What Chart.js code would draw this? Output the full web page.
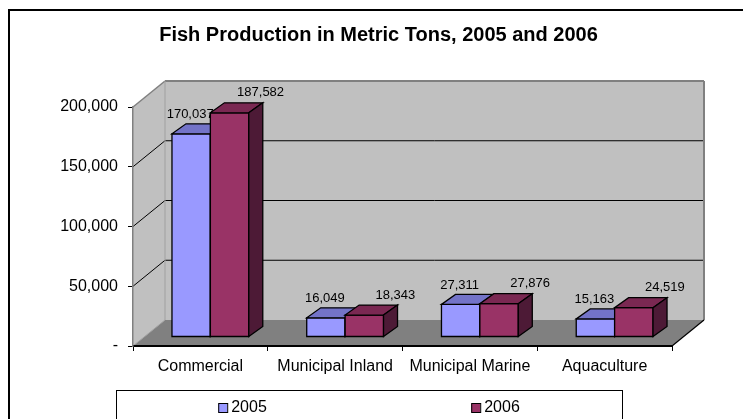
<!DOCTYPE html>
<html>
<head>
<meta charset="utf-8">
<script src="https://cdn.jsdelivr.net/npm/chart.js@4.4.1/dist/chart.umd.min.js"></script>
<style>
  html, body { margin: 0; padding: 0; background: #fff; }
  #wrap { width: 743px; height: 419px; }
</style>
</head>
<body>
<div id="wrap"><canvas id="c" width="743" height="419"></canvas></div>
<script>
// ---- data ----
const categories = ['Commercial', 'Municipal Inland', 'Municipal Marine', 'Aquaculture'];
const seriesNames = ['2005', '2006'];
const values2005 = [170037, 16049, 27311, 15163];
const values2006 = [187582, 18343, 27876, 24519];
const yTicks = [0, 50000, 100000, 150000, 200000];
const chartTitle = 'Fish Production in Metric Tons, 2005 and 2006';

// ---- styles ----
const FONT = '"Liberation Sans", Arial, sans-serif';
const faces = [
  { front: '#9999FF', top: '#7373C8', side: '#5C5C99' },
  { front: '#993366', top: '#7A2852', side: '#4D1A36' }
];
const DEPTH = { dx: 32, dy: -26 };     // plot box depth
const BAR_OFF = { dx: 10, dy: -9 };    // bar row position in depth
const BAR_DEPTH = { dx: 14, dy: -10 }; // bar thickness
const LABEL_OFF = [{ dx: -1, dy: -19 }, { dx: 31, dy: -20 }];

function fmt(v) { return v === 0 ? '-' : v.toLocaleString('en-US'); }

function poly(ctx, pts, fill, stroke, lw) {
  ctx.beginPath();
  ctx.moveTo(pts[0][0], pts[0][1]);
  for (let i = 1; i < pts.length; i++) ctx.lineTo(pts[i][0], pts[i][1]);
  ctx.closePath();
  if (fill) { ctx.fillStyle = fill; ctx.fill(); }
  if (stroke) { ctx.strokeStyle = stroke; ctx.lineWidth = lw || 1; ctx.stroke(); }
}
function line(ctx, x1, y1, x2, y2, color, lw) {
  ctx.beginPath(); ctx.moveTo(x1, y1); ctx.lineTo(x2, y2);
  ctx.strokeStyle = color; ctx.lineWidth = lw || 1; ctx.stroke();
}

const scene3d = {
  id: 'scene3d',
  beforeDraw(chart) {
    const { ctx, chartArea: a, scales: { y } } = chart;
    const dx = DEPTH.dx, dy = DEPTH.dy;
    const yTop = y.getPixelForValue(y.max), yBot = y.getPixelForValue(0);
    ctx.save();
    ctx.fillStyle = '#fff'; ctx.fillRect(0, 0, chart.width, chart.height);
    // outer frame
    ctx.lineWidth = 2; ctx.strokeStyle = '#000';
    ctx.strokeRect(9, 10, chart.width + 40, chart.height + 40);
    // back wall
    poly(ctx, [[a.left + dx, yTop + dy], [a.right + dx, yTop + dy], [a.right + dx, yBot + dy], [a.left + dx, yBot + dy]], '#C0C0C0');
    // left wall
    poly(ctx, [[a.left, yTop], [a.left + dx, yTop + dy], [a.left + dx, yBot + dy], [a.left, yBot]], '#C0C0C0');
    // grid lines
    yTicks.forEach(v => {
      if (v === 0 || v === y.max) return;
      const py = y.getPixelForValue(v);
      line(ctx, a.left + dx, py + dy, a.right + dx, py + dy, '#000', 1);
      line(ctx, a.left, py, a.left + dx, py + dy, '#000', 1);
    });
    // wall edges
    line(ctx, a.left, yTop, a.left + dx, yTop + dy, '#808080', 1.5);
    line(ctx, a.left + dx, yTop + dy, a.right + dx, yTop + dy, '#808080', 2);
    line(ctx, a.right + dx, yTop + dy, a.right + dx, yBot + dy, '#808080', 2);
    line(ctx, a.left + dx, yTop + dy, a.left + dx, yBot + dy, '#A0A0A0', 1);
    // floor
    poly(ctx, [[a.left, yBot], [a.right, yBot], [a.right + dx, yBot + dy], [a.left + dx, yBot + dy]], '#808080');
    line(ctx, a.left, yBot, a.left + dx, yBot + dy, '#A0A0A0', 1);
    line(ctx, a.right, yBot, a.right + dx, yBot + dy, '#000', 1.2);
    ctx.restore();
  },
  beforeDatasetsDraw(chart) {
    const { ctx } = chart;
    const metas = chart.data.datasets.map((d, i) => chart.getDatasetMeta(i));
    ctx.save();
    ctx.lineJoin = 'miter';
    const n = chart.data.labels.length;
    for (let i = 0; i < n; i++) {
      metas.forEach((meta, di) => {
        const bar = meta.data[i];
        const p = bar.getProps(['x', 'y', 'base', 'width'], true);
        const c = faces[di];
        const x0 = p.x - p.width / 2 + BAR_OFF.dx, x1 = p.x + p.width / 2 + BAR_OFF.dx;
        const yt = p.y + BAR_OFF.dy, yb = p.base + BAR_OFF.dy;
        const bx = BAR_DEPTH.dx, by = BAR_DEPTH.dy;
        poly(ctx, [[x0, yt], [x1, yt], [x1, yb], [x0, yb]], c.front, '#000', 1.3);
        poly(ctx, [[x0, yt], [x1, yt], [x1 + bx, yt + by], [x0 + bx, yt + by]], c.top, '#000', 1.3);
        poly(ctx, [[x1, yt], [x1 + bx, yt + by], [x1 + bx, yb + by], [x1, yb]], c.side, '#000', 1.3);
      });
    }
    // data labels
    ctx.font = '13px ' + FONT;
    ctx.fillStyle = '#000';
    ctx.textAlign = 'center';
    ctx.textBaseline = 'middle';
    metas.forEach((meta, di) => {
      const vals = chart.data.datasets[di].data;
      meta.data.forEach((bar, i) => {
        const p = bar.getProps(['x', 'y'], true);
        ctx.fillText(fmt(vals[i]), p.x + BAR_OFF.dx + LABEL_OFF[di].dx, p.y + BAR_OFF.dy + LABEL_OFF[di].dy);
      });
    });
    ctx.restore();
    return false;
  },
  afterDraw(chart) {
    const { ctx } = chart;
    const bx = 116, by = 390, bw = 506;
    ctx.save();
    ctx.lineWidth = 1; ctx.strokeStyle = '#000';
    ctx.strokeRect(bx + 0.5, by + 0.5, bw, 60);
    ctx.font = '16px ' + FONT;
    ctx.textBaseline = 'alphabetic';
    ctx.textAlign = 'left';
    const colW = bw / seriesNames.length;
    seriesNames.forEach((name, i) => {
      const tw = ctx.measureText(name).width;
      const iw = 9 + 4 + tw;
      const sx = bx + colW * i + (colW - iw) / 2;
      ctx.fillStyle = chart.data.datasets[i].backgroundColor;
      ctx.fillRect(sx, 403.5, 9, 9);
      ctx.strokeStyle = '#000'; ctx.lineWidth = 1;
      ctx.strokeRect(sx + 0.5, 403.5, 9, 9);
      ctx.fillStyle = '#000';
      ctx.fillText(name, sx + 13, 412);
    });
    ctx.restore();
  }
};

new Chart(document.getElementById('c'), {
  type: 'bar',
  data: {
    labels: categories,
    datasets: [
      { label: seriesNames[0], data: values2005, backgroundColor: faces[0].front, yAxisID: 'y' },
      { label: seriesNames[1], data: values2006, backgroundColor: faces[1].front, yAxisID: 'y' }
    ]
  },
  options: {
    responsive: false,
    animation: false,
    events: [],
    layout: { padding: { left: 14, right: 0, top: 0, bottom: 33 } },
    datasets: { bar: { categoryPercentage: 0.57, barPercentage: 1 } },
    plugins: {
      legend: { display: false },
      tooltip: { enabled: false },
      title: {
        display: true,
        text: chartTitle,
        color: '#000',
        font: { family: FONT, size: 20, weight: 'bold' },
        padding: { top: 23, bottom: 60 }
      }
    },
    scales: {
      x: {
        type: 'category',
        offset: true,
        grid: { display: true, offset: true, drawOnChartArea: false, drawTicks: true, tickLength: 5, color: '#000', lineWidth: 1 },
        border: { display: true, color: '#000', width: 2 },
        ticks: { color: '#000', font: { family: FONT, size: 16 }, padding: 6, maxRotation: 0, autoSkip: false },
        afterFit(s) { s.height = 40; }
      },
      y: {
        type: 'linear',
        min: 0,
        max: 200000,
        afterBuildTicks(s) { s.ticks = yTicks.map(v => ({ value: v })); },
        grid: { display: true, drawOnChartArea: false, drawTicks: true, tickLength: 5, color: '#000', lineWidth: 1 },
        border: { display: true, color: '#808080', width: 1.5 },
        ticks: { color: '#000', font: { family: FONT, size: 16 }, padding: 10, callback: v => fmt(v) },
        afterFit(s) { s.width = 119; }
      },
      y2: {
        type: 'linear',
        position: 'right',
        display: true,
        grid: { display: false },
        border: { display: false },
        ticks: { display: false },
        afterFit(s) { s.width = 71; }
      }
    }
  },
  plugins: [scene3d]
});
</script>
</body>
</html>
